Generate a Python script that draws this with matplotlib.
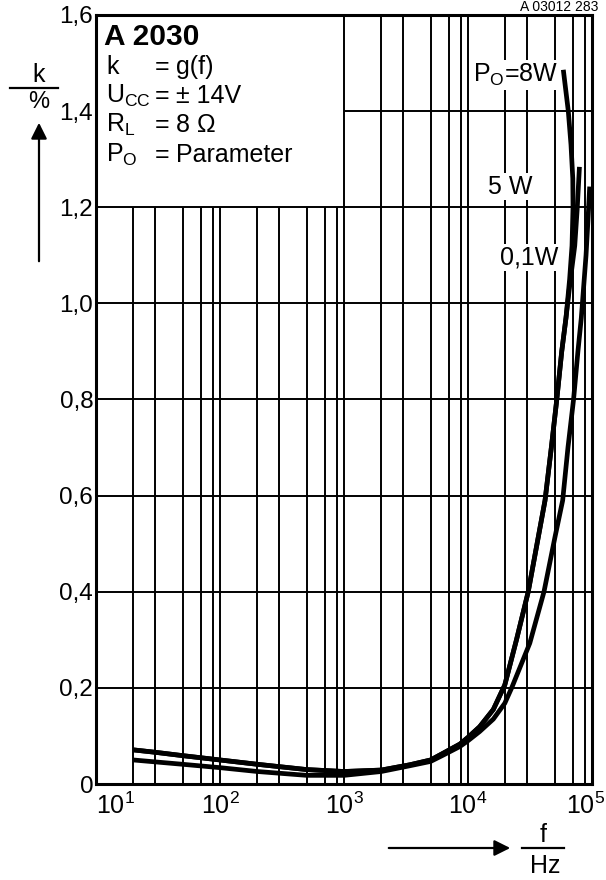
import matplotlib
matplotlib.use('Agg')
import matplotlib.pyplot as plt
import matplotlib.transforms as mtransforms

plt.rcParams['font.family'] = ['Liberation Sans', 'DejaVu Sans']
plt.rcParams['mathtext.fontset'] = 'custom'
plt.rcParams['mathtext.rm'] = 'Liberation Sans'

# Distortion k (%), f in Hz
f_8w = [20, 30, 50, 100, 200, 500, 1000, 2000, 3400, 5000, 6300, 8600, 10000, 12400,
        16000, 19800, 24600, 30600, 41800, 47000, 52000, 57000, 61700, 66000, 69000,
        70300, 70000, 67700, 64400, 58700]
k_8w = [0.071, 0.066, 0.059, 0.050, 0.041, 0.030, 0.026, 0.029, 0.040, 0.050, 0.064,
        0.083, 0.097, 0.119, 0.155, 0.206, 0.30, 0.40, 0.59, 0.70, 0.80, 0.90, 0.97,
        1.05, 1.12, 1.20, 1.26, 1.33, 1.40, 1.486]

f_5w = [20, 30, 50, 100, 200, 500, 1000, 2000, 3400, 5000, 6300, 8600, 10000, 12400,
        16000, 19800, 24600, 30600, 41800, 47000, 52000, 57000, 61700, 67000, 72600,
        75900, 79200]
k_5w = [0.071, 0.066, 0.059, 0.050, 0.041, 0.030, 0.026, 0.029, 0.040, 0.050, 0.064,
        0.083, 0.097, 0.119, 0.155, 0.206, 0.30, 0.40, 0.59, 0.70, 0.80, 0.90, 0.97,
        1.05, 1.12, 1.195, 1.284]

f_01w = [20, 30, 50, 100, 200, 500, 1000, 2000, 3400, 5000, 6300, 8600, 10000, 12400,
         16000, 19800, 22500, 31500, 41000, 50400, 58000, 64000, 71000, 77000, 82000,
         89500, 94000, 95800]
k_01w = [0.050, 0.046, 0.041, 0.034, 0.026, 0.018, 0.018, 0.026, 0.038, 0.047, 0.060,
         0.078, 0.090, 0.109, 0.135, 0.168, 0.20, 0.293, 0.40, 0.515, 0.59, 0.70, 0.80,
         0.90, 0.97, 1.10, 1.20, 1.243]

y_ticks = [0, 0.2, 0.4, 0.6, 0.8, 1.0, 1.2, 1.4, 1.6]
y_labels = ['0', '0,2', '0,4', '0,6', '0,8', '1,0', '1,2', '1,4', '1,6']
x_ticks = [10, 100, 1000, 10000, 100000]
x_labels = [r'$\mathregular{10^{1}}$', r'$\mathregular{10^{2}}$', r'$\mathregular{10^{3}}$',
            r'$\mathregular{10^{4}}$', r'$\mathregular{10^{5}}$']

W, H = 606, 880
def fx(x):
    return x / W
def fy(y):
    return 1 - y / H

fig = plt.figure(figsize=(6.06, 8.8), dpi=100)
ax = fig.add_axes([96 / W, 96 / H, 496 / W, 769 / H])
ax.set_xscale('log')
ax.set_xlim(10, 1e5)
ax.set_ylim(0, 1.6)

# grid: lines at 2,3,5,7,~9 per decade, the legend box blanks the top left corner
grid_x = []
for dec in [10, 100, 1000, 10000]:
    for m in [2, 3, 5, 7, 8.7]:
        grid_x.append(dec * m)
grid_x += [100, 1000, 10000]
for gx in grid_x:
    top = 1.6 if gx >= 1000 else 1.2
    ax.vlines(gx, 0, top, color='black', lw=1.4, zorder=1)
for gy in [0.2, 0.4, 0.6, 0.8, 1.0, 1.2]:
    ax.hlines(gy, 10, 1e5, color='black', lw=1.4, zorder=1)
ax.hlines(1.4, 1000, 1e5, color='black', lw=1.4, zorder=1)

for fs, ks in [(f_8w, k_8w), (f_5w, k_5w), (f_01w, k_01w)]:
    ax.plot(fs, ks, color='black', lw=3.4, solid_capstyle='butt',
            solid_joinstyle='round', zorder=3)

ax.set_yticks(y_ticks)
ax.set_yticklabels(y_labels, fontsize=17.5)
ax.set_xticks(x_ticks)
ax.set_xticklabels(x_labels, fontsize=18)
ax.minorticks_off()
ax.tick_params(length=0)
ax.tick_params(axis='y', pad=2)
ax.tick_params(axis='x', pad=6)
xl = ax.get_xticklabels()
xl[0].set_horizontalalignment('left')
xl[-1].set_transform(xl[-1].get_transform() +
                     mtransforms.ScaledTranslation(-6 / 100, 0, fig.dpi_scale_trans))
for s in ax.spines.values():
    s.set_linewidth(2.2)

# legend box text
fig.text(fx(104), fy(45), 'A 2030', fontsize=21.5, fontweight='bold', va='baseline')
rows = [('k', 'g(f)', 74), (r'$\mathregular{U_{CC}}$', '± 14V', 103),
        (r'$\mathregular{R_L}$', '8 Ω', 132), (r'$\mathregular{P_O}$', 'Parameter', 162)]
for name, val, yb in rows:
    fig.text(fx(106), fy(yb), name, fontsize=18, va='baseline')
    fig.text(fx(155), fy(yb), '=', fontsize=18, va='baseline')
    fig.text(fx(176), fy(yb), val, fontsize=18, va='baseline')

# curve labels
box = dict(facecolor='white', edgecolor='none', pad=1)
fig.text(fx(558), fy(82), r'$\mathregular{P_O}$=8W', fontsize=18, ha='right', va='baseline', bbox=box)
fig.text(fx(533), fy(194), '5 W', fontsize=18, ha='right', va='baseline', bbox=box)
fig.text(fx(558), fy(264), '0,1W', fontsize=18, ha='right', va='baseline', bbox=box)

# drawing number at the top edge
fig.text(fx(598), fy(11), 'A 03012 283', fontsize=10, ha='right', va='baseline')

# axis quantities with arrows
fig.text(fx(39), fy(82), 'k', fontsize=18, ha='center', va='baseline')
fig.add_artist(plt.Line2D([fx(10), fx(58)], [fy(88), fy(88)], color='black', lw=1.6))
fig.text(fx(39), fy(108), '%', fontsize=17, ha='center', va='baseline')
ax.annotate('', xy=(fx(39), fy(120)), xytext=(fx(39), fy(264)),
            xycoords='figure fraction', textcoords='figure fraction',
            arrowprops=dict(arrowstyle='-|>', color='black', lw=1.6, mutation_scale=24))

fig.text(fx(543), fy(842), 'f', fontsize=18, ha='center', va='baseline')
fig.add_artist(plt.Line2D([fx(522), fx(564)], [fy(848), fy(848)], color='black', lw=1.6))
fig.text(fx(545), fy(873), 'Hz', fontsize=18, ha='center', va='baseline')
ax.annotate('', xy=(fx(513), fy(848)), xytext=(fx(386), fy(848)),
            xycoords='figure fraction', textcoords='figure fraction',
            arrowprops=dict(arrowstyle='-|>', color='black', lw=1.6, mutation_scale=24))

plt.savefig('out.png', dpi=100)
